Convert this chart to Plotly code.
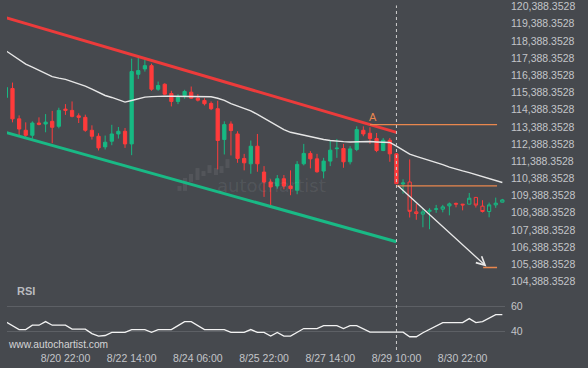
import plotly.graph_objects as go

# ---------------- data ----------------
opens = [115100,115621,113855,113189,112899,113612,113554,113710,113420,114422,
         114347,114028,113942,113189,112841,112222,112552,112975,113131,112396,
         116449,116761,116952,115580,115870,115331,114868,115215,115407,115059,
         114926,114752,114445,112650,113554,112975,111550,111238,112262,110757,
         110178,109946,110369,109946,109697,111238,111840,111527,110815,111394,
         112118,112129,111354,112071,113189,113015,112708,112013,112610,111817,
         110062,110178,108441,108308,108470,108586,108597,108788,108933,108887,
         108887,109281,108771,108459,108846,109003]
highs = [115737,115968,114057,113652,113710,113942,114133,114318,114503,114712,
         114868,114173,114098,113478,113015,112882,113507,113380,113322,117358,
         117416,117300,117068,116026,115928,115488,115291,115545,115737,115291,
         115059,114868,114909,113710,113710,113131,111817,112593,112975,111104,
         110334,110583,110583,110855,111394,112396,111973,111817,111585,112593,
         112685,112396,112262,113420,113420,113363,113033,112743,112743,111857,
         110334,111492,108904,108644,108655,108846,108846,108980,108980,108904,
         109541,109310,109118,108980,109269,109194]
lows = [115042,113652,112899,112708,112697,113478,113073,112436,113305,114086,
        113942,113612,113102,112650,112013,112071,112320,112708,112164,111741,
        116182,116605,115488,115488,115256,114579,114712,115024,115024,114868,
        114636,114364,110913,111782,111724,111296,110855,110659,110774,109310,
        108788,109790,109755,109408,109466,111145,110971,110717,110392,111104,
        111585,111006,111203,111973,112841,112396,111915,111973,111354,110062,
        109501,108111,107978,107544,107428,108383,108412,108238,108702,108528,
        108875,108690,108401,108123,108673,108991]
closes = [115679,113855,113264,112899,113612,113536,113664,113363,114347,114347,
          113999,113942,113189,112841,112164,112494,112975,113131,112396,116605,
          116663,116952,115580,115794,115291,114868,115100,115447,115059,114943,
          114735,114445,112593,113519,113171,111550,111296,112262,111238,110178,
          109889,110369,109946,109790,111203,111840,111527,110774,111394,112031,
          112147,111354,112106,113229,112975,112708,112013,112610,111817,110080,
          110120,108470,108343,108441,108528,108615,108731,108904,108893,108846,
          109234,108835,108459,108846,108945,109136]
moving_avg = [117821,117560,117300,117039,116866,116692,116489,116316,116229,116153,
              116026,115910,115765,115592,115389,115215,115100,114966,114828,114926,
              115013,115117,115146,115169,115175,115169,115163,115158,115146,115146,
              115158,115140,115053,114926,114735,114607,114463,114318,114115,113884,
              113669,113449,113229,113073,112980,112899,112836,112737,112650,112598,
              112552,112529,112506,112511,112552,112535,112511,112494,112477,112262,
              112031,111799,111672,111556,111434,111307,111186,111047,110925,110827,
              110728,110607,110485,110387,110265,110149]
rsi = [47.5,44.5,41.3,41.3,44.8,44.8,47.7,44.8,44.8,44.8,
       41.6,41.6,41.6,38.0,36.0,36.5,39.0,39.0,39.0,41.3,
       41.3,41.3,39.0,41.3,41.3,41.3,44.5,47.7,47.7,44.5,
       41.3,41.3,41.3,41.3,39.0,39.0,39.0,41.3,39.0,39.0,
       36.0,39.0,36.0,36.0,39.4,42.1,42.1,42.1,44.5,44.5,
       44.5,42.1,44.5,44.5,41.8,39.2,39.2,39.2,39.2,39.2,
       39.2,35.5,35.5,38.7,41.3,44.5,46.9,46.9,46.9,46.9,
       50.1,46.9,47.7,50.5,53.3,53.3]

tick_idx = [9, 19, 29, 39, 49, 59, 69]
tick_labels = ["8/20 22:00", "8/22 14:00", "8/24 06:00", "8/25 22:00",
               "8/27 14:00", "8/29 10:00", "8/30 22:00"]
price_ticks = [104388.3528 + 1000 * k for k in range(17)]
rsi_ticks = [40, 60]

# pattern (channel, levels, projection)
channel_idx = [0, 59]
channel_upper = [119749, 113067]
channel_lower = [113062, 106698]
breakout_idx = 59
level_a = 113519
level_a_idx = [55, 74.2]
level_break = 109953
level_break_idx = [59, 74.2]
projection_start = (59, 110040)
projection_end = (72.6, 105257)
target_level = 105199
target_idx = [72.1, 74.2]
future_start = 60

# ---------------- style ----------------
BG = "#46494e"
RED = "#ff3b3b"
GREEN = "#17b983"
ORANGE = "#e9874e"
TXT = "#c3c5c9"
FONT = "Liberation Sans, Arial, sans-serif"

idx = list(range(len(opens)))
fig = go.Figure()

# channel lines
fig.add_trace(go.Scatter(x=channel_idx, y=channel_upper, mode="lines",
                         line=dict(color="#ec3b3b", width=3), hoverinfo="skip"))
fig.add_trace(go.Scatter(x=channel_idx, y=channel_lower, mode="lines",
                         line=dict(color="#19b985", width=3), hoverinfo="skip"))

# moving average
fig.add_trace(go.Scatter(x=idx, y=moving_avg, mode="lines",
                         line=dict(color="#e6e6e6", width=1.4), hoverinfo="skip"))

# candles (filled past, hollow after breakout)
p = slice(0, future_start)
f = slice(future_start, None)
fig.add_trace(go.Candlestick(
    x=idx[p], open=opens[p], high=highs[p], low=lows[p], close=closes[p],
    increasing=dict(line=dict(color=GREEN, width=1), fillcolor=GREEN),
    decreasing=dict(line=dict(color=RED, width=1), fillcolor=RED),
    whiskerwidth=0, hoverinfo="skip"))
fig.add_trace(go.Candlestick(
    x=idx[f], open=opens[f], high=highs[f], low=lows[f], close=closes[f],
    increasing=dict(line=dict(color=GREEN, width=1), fillcolor=BG),
    decreasing=dict(line=dict(color=RED, width=1), fillcolor=BG),
    whiskerwidth=0, hoverinfo="skip"))

# orange levels
for xs, lv in [(level_a_idx, level_a), (level_break_idx, level_break), (target_idx, target_level)]:
    fig.add_trace(go.Scatter(x=xs, y=[lv, lv], mode="lines",
                             line=dict(color=ORANGE, width=1.3), hoverinfo="skip"))

# RSI
fig.add_trace(go.Scatter(x=idx, y=rsi, mode="lines", yaxis="y2",
                         line=dict(color="#f2f2f2", width=1.3), hoverinfo="skip"))

# projection arrow
fig.add_annotation(x=projection_end[0], y=projection_end[1], ax=projection_start[0], ay=projection_start[1],
                   xref="x", yref="y", axref="x", ayref="y", text="", showarrow=True,
                   arrowhead=5, arrowsize=1.3, arrowwidth=1.3, arrowcolor="#e8e8e8")
# A label
fig.add_annotation(x=(level_a_idx[0] + 0.5), y=level_a, xref="x", yref="y", text="A",
                   showarrow=False, yanchor="bottom", yshift=0,
                   font=dict(family=FONT, size=11, color=ORANGE))

# breakout vertical dashed line
fig.add_shape(type="line", xref="x", yref="paper", x0=breakout_idx, x1=breakout_idx, y0=0, y1=0.99,
              line=dict(color="#cfcfcf", width=1, dash="3px,3px"))

# watermark logo bars (decoration, paper coords)
logo_bars = [(179.5, 185, 190), (185, 177, 190), (191, 173, 181), (197.5, 167, 179),
             (203.5, 170, 175), (209.5, 164, 172), (216, 167, 174), (221.5, 165, 172), (227.5, 158, 167)]
for cx, top, bot in logo_bars:
    fig.add_shape(type="rect", xref="paper", yref="paper",
                  x0=(cx - 2 - 7) / 498, x1=(cx + 2 - 7) / 498,
                  y0=(350 - bot) / 350, y1=(350 - top) / 350,
                  line=dict(width=0), fillcolor="rgba(255,255,255,0.07)", layer="below")

# texts
fig.add_annotation(x=0.016, y=0.169, xref="paper", yref="paper", text="<b>RSI</b>", showarrow=False,
                   xanchor="left", yanchor="middle", font=dict(family=FONT, size=11, color="#b9bbbf"))
fig.add_annotation(x=-0.002, y=0.017, xref="paper", yref="paper", text="www.autochartist.com",
                   showarrow=False, xanchor="left", yanchor="middle",
                   font=dict(family=FONT, size=10.2, color="#d4d4d6"))
fig.add_annotation(x=0.532, y=0.472, xref="paper", yref="paper", text="autochartist",
                   showarrow=False, font=dict(family="DejaVu Sans, sans-serif", size=18,
                                              color="rgba(255,255,255,0.08)"))

fig.update_layout(
    width=588, height=368, margin=dict(l=7, r=83, t=0, b=18),
    paper_bgcolor=BG, plot_bgcolor=BG, showlegend=False,
    xaxis=dict(range=[0.17, 75.4], tickvals=tick_idx, ticktext=tick_labels, anchor="y2",
               showgrid=False, zeroline=False, showline=False, ticks="",
               rangeslider=dict(visible=False), ticklabeloverflow="allow",
               tickfont=dict(family=FONT, size=10.5, color=TXT)),
    yaxis=dict(domain=[0.177, 1], range=[103983, 120658], side="right", tickvals=price_ticks,
               tickformat=",.4f", showgrid=False, zeroline=False, showline=False, ticks="",
               ticklabelstandoff=5, ticklabeloverflow="allow",
               tickfont=dict(family=FONT, size=10.5, color=TXT)),
    yaxis2=dict(domain=[0, 0.171], range=[24.8, 72.8], side="right", tickvals=rsi_ticks,
                showgrid=True, gridcolor="#5d6065", gridwidth=1, zeroline=False, showline=False,
                ticks="", ticklabelstandoff=5, tickfont=dict(family=FONT, size=10.5, color=TXT)),
)

fig.write_html("out.html", config={"displayModeBar": False},
               post_script="document.body.style.margin='0';document.body.style.padding='0';"
                           "document.body.style.background='" + BG + "';")
